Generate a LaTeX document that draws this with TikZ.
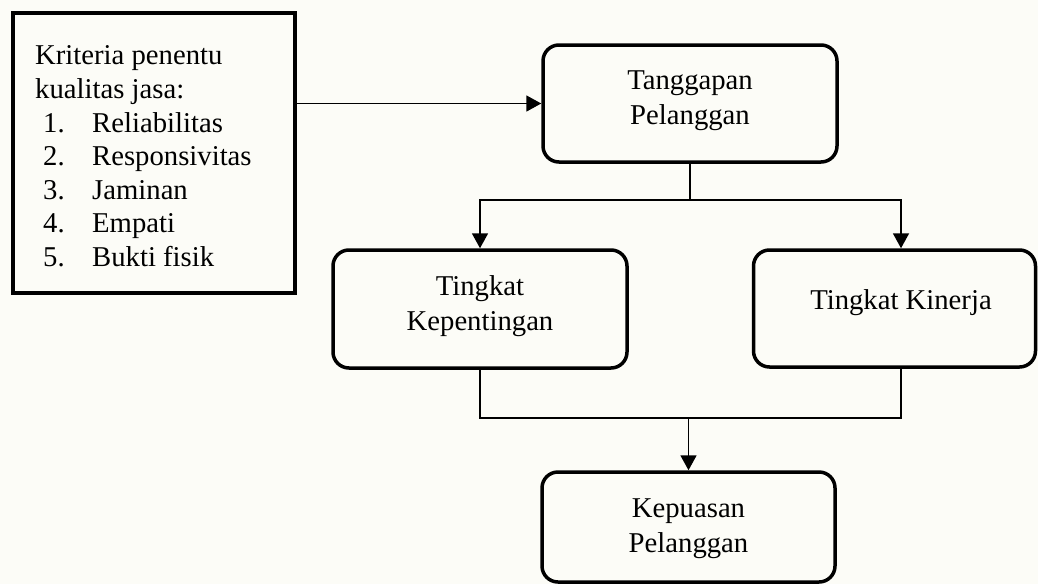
\documentclass[tikz,border=0pt]{standalone}
\usepackage{fontspec}
\setmainfont{Liberation Serif}
\usetikzlibrary{arrows.meta}
\definecolor{bgc}{RGB}{252,252,247}
\begin{document}
\begin{tikzpicture}[x=1pt,y=-1pt,
  txt/.style={inner sep=0pt, font=\fontsize{28.7pt}{35pt}\selectfont},
  rbox/.style={draw, line width=3.5pt, rounded corners=16pt, inner sep=0pt},
  sbox/.style={draw, line width=3.2pt, inner sep=0pt},
  conn/.style={line width=1.8pt},
  arr/.style={line width=1.8pt, -{Triangle[length=15pt,width=16pt]}}]
\useasboundingbox[fill=bgc] (0,0) rectangle (1038,584);
% boxes
\node[sbox, minimum width=282pt, minimum height=280pt] (crit) at (154,153) {};
\node[rbox, minimum width=294pt, minimum height=117pt] (tang) at (690,103.5) {};
\node[rbox, minimum width=294pt, minimum height=118pt] (kep) at (480,309) {};
\node[rbox, minimum width=282pt, minimum height=117pt] (kin) at (894.5,308.5) {};
\node[rbox, minimum width=293pt, minimum height=110pt] (kp) at (688.5,527) {};
% texts
\node[txt, anchor=base west, align=left, font=\fontsize{28.7pt}{33.6pt}\selectfont] (critT) at (35,266.5)
 {Kriteria penentu\\
  kualitas jasa:\\
  \hspace*{8pt}\makebox[49pt][l]{1.}Reliabilitas\\
  \hspace*{8pt}\makebox[49pt][l]{2.}Responsivitas\\
  \hspace*{8pt}\makebox[49pt][l]{3.}Jaminan\\
  \hspace*{8pt}\makebox[49pt][l]{4.}Empati\\
  \hspace*{8pt}\makebox[49pt][l]{5.}Bukti fisik};
\node[txt, anchor=base, align=center] (tangT) at (690,124) {Tanggapan\\Pelanggan};
\node[txt, anchor=base, align=center] (kepT) at (480,330) {Tingkat\\Kepentingan};
\node[txt, anchor=base] (kinT) at (901,309) {Tingkat Kinerja};
\node[txt, anchor=base, align=center] (kpT) at (688.5,552) {Kepuasan\\Pelanggan};
% connectors
\coordinate (ja) at (690,200);
\coordinate (jb) at (688.5,418);
\draw[arr] (tang.west -| crit.east) -- (tang.west);
\draw[conn] (tang.south) -- (ja);
\draw[arr] (ja) -| (kep.north);
\draw[arr] (ja) -| (kinT |- kin.north);
\draw[conn] (kep.south) |- (jb) -| (kinT |- kin.south);
\draw[arr] (jb) -- (kp.north);
\end{tikzpicture}
\end{document}
